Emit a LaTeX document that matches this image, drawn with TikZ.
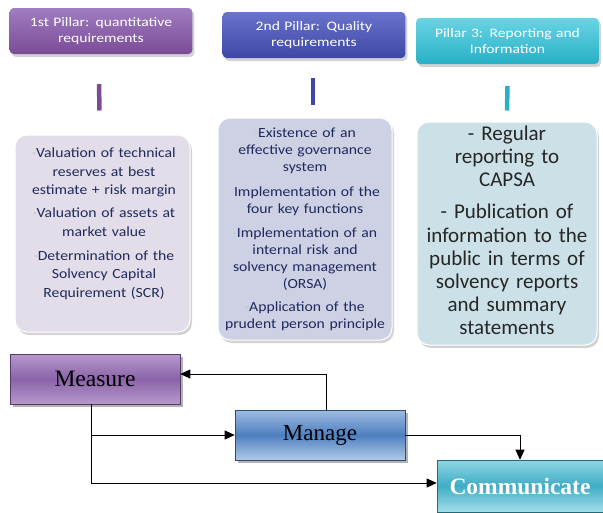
\documentclass[tikz,border=0pt]{standalone}
\usepackage{fontspec}
\setmainfont{Carlito}
\newfontfamily\widefont[FakeStretch=1.12]{Carlito}
\newfontfamily\headfont[FakeStretch=1.2]{Carlito}
\newfontfamily\timesf{Liberation Serif}
\usetikzlibrary{calc,shadows,arrows.meta}
\definecolor{pur}{HTML}{7A4C96}
\definecolor{purL}{HTML}{A07CC0}
\definecolor{blu}{HTML}{3D47A6}
\definecolor{bluL}{HTML}{6A74CC}
\definecolor{tea}{HTML}{27B0C6}
\definecolor{teaL}{HTML}{6AD4E4}
\definecolor{fillA}{HTML}{E3DDE9}
\definecolor{fillB}{HTML}{CDD1E3}
\definecolor{fillC}{HTML}{CCE0E7}
\definecolor{navy}{HTML}{1E2A5E}
\definecolor{mpur}{HTML}{8A64A8}
\definecolor{mpurL}{HTML}{B898CC}
\definecolor{mblu}{HTML}{4F7FC0}
\definecolor{mbluL}{HTML}{9DBCE2}
\definecolor{mtea}{HTML}{3EADC5}
\definecolor{mteaL}{HTML}{8FD6E4}
\tikzset{
  pillar/.style={rounded corners=4pt, minimum width=178pt, minimum height=46pt,
    text width=176pt, align=center, text=white, font=\headfont\fontsize{13}{16}\selectfont,
    drop shadow={shadow xshift=2pt, shadow yshift=-3pt, opacity=0.35}},
  content/.style={rounded corners=12pt, draw=white, line width=1pt,
    drop shadow={shadow xshift=2pt, shadow yshift=-3pt, opacity=0.35}},
  ctext/.style={align=center, text=navy, inner sep=0pt},
  bar/.style={line width=4.5pt},
  stage/.style={draw=#1!60!black, line width=0.6pt,
    drop shadow={shadow xshift=3pt, shadow yshift=-3pt, opacity=0.6}},
  flow/.style={draw=black, line width=0.8pt, -{Triangle[length=10pt,width=9pt]}}
}
\newcommand{\bdot}{{\color{white!55!gray}·}}
\begin{document}
\begin{tikzpicture}[x=1pt,y=-1pt]
\useasboundingbox (0,0) rectangle (603,512);
% pillar headers
\node[pillar, top color=purL, bottom color=pur] (p1) at (101,31) {1st Pillar: quantitative\\requirements};
\node[pillar, top color=bluL, bottom color=blu] (p2) at (314,35) {2nd Pillar: Quality\\requirements};
\node[pillar, top color=teaL, bottom color=tea] (p3) at (507.5,41) {Pillar 3: Reporting and\\Information};
% content boxes
\node[content, fill=fillA, minimum width=175pt, minimum height=197pt] (a) at (102.5,233.5) {};
\node[content, fill=fillB, minimum width=174pt, minimum height=222pt] (b) at (305,229) {};
\node[content, fill=fillC, minimum width=180pt, minimum height=223pt] (c) at (507,233.5) {};
% connector bars
\draw[bar, draw=pur] ($(p1.south)+(-2,30)$) -- ($(a.north)+(-3,-24)$);
\draw[bar, draw=blu] ($(p2.south)+(-1,20)$) -- ($(b.north)+(8,-13)$);
\draw[bar, draw=tea] ($(p3.south)+(0,22)$) -- ($(c.north)+(0,-11)$);
% content texts
\node[ctext, anchor=north, text width=174pt, font=\widefont\fontsize{14}{18.3}\selectfont] (ta) at (104,148)
 {\bdot Valuation of technical\\reserves at best\\estimate + risk margin\\[5pt]
  \bdot Valuation of assets at\\market value\\[6pt]
  \bdot Determination of the\\Solvency Capital\\Requirement (SCR)};
\node[ctext, anchor=north, text width=174pt, font=\widefont\fontsize{14}{17}\selectfont] (tb) at (305,127.5)
 {\bdot Existence of an\\effective governance\\system\\[8pt]
  \bdot Implementation of the\\four key functions\\[7pt]
  \bdot Implementation of an\\internal risk and\\solvency management\\(ORSA)\\[6pt]
  \bdot Application of the\\prudent person principle};
\node[ctext, anchor=north, text width=178pt, font=\fontsize{21}{23.2}\selectfont, text=black!85] (tc) at (507,125.5)
 {- Regular\\reporting to\\CAPSA\\[9pt]
  - Publication of\\information to the\\public in terms of\\solvency reports\\and summary\\statements};
% stages
\node[stage=mpur, top color=mpurL, bottom color=mpurL, middle color=mpur, minimum width=170pt, minimum height=50pt,
  font=\timesf\fontsize{23.5}{25}\selectfont] (measure) at (95,379) {Measure};
\node[stage=mblu, top color=mbluL, bottom color=mbluL!80, middle color=mblu, minimum width=170pt, minimum height=50pt,
  font=\timesf\fontsize{23}{25}\selectfont] (manage) at (320,435) {Manage};
\node[stage=mtea, top color=mteaL, bottom color=mteaL!80, middle color=mtea, minimum width=166pt, minimum height=52pt,
  text=white, font=\timesf\bfseries\fontsize{23.5}{25}\selectfont] (comm) at (520,486) {Communicate};
% flows
\draw[flow] ($(manage.north)+(6,0)$) |- ($(measure.east)+(0,-5)$);
\draw[flow] ($(measure.south)+(-4,0)$) |- (manage.west);
\draw[flow] ($(measure.south)+(-4,0)$) |- ($(comm.west)+(0,-3)$);
\draw[flow] (manage.east) -| (comm.north);
\end{tikzpicture}
\end{document}
